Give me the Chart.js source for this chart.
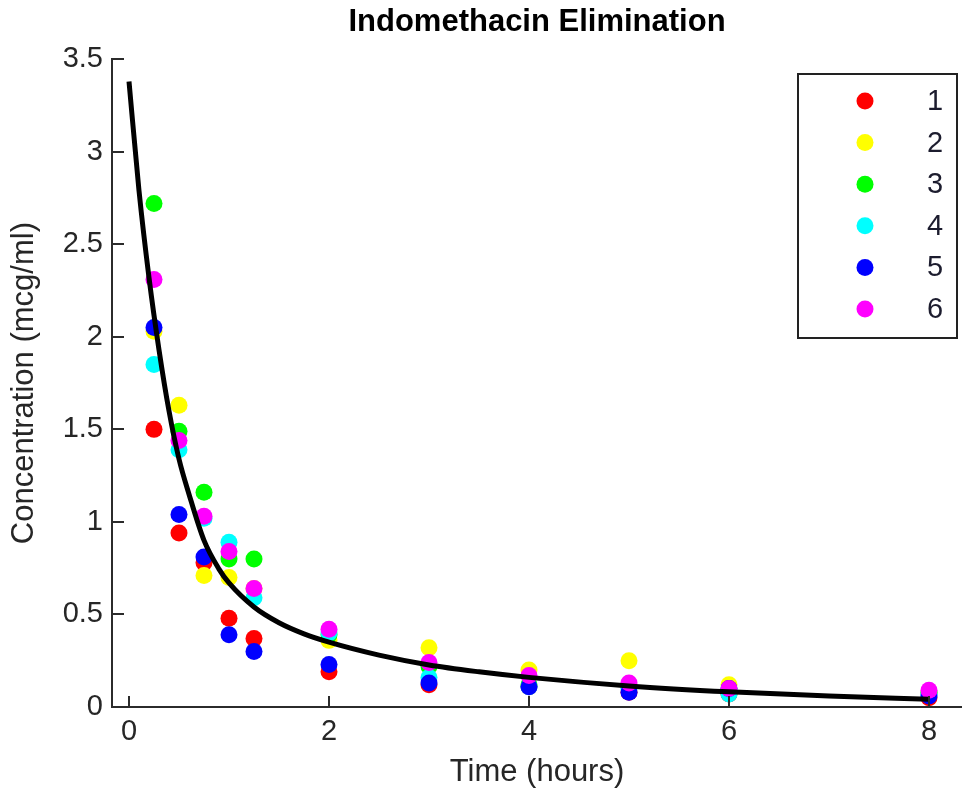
<!DOCTYPE html>
<html>
<head>
<meta charset="utf-8">
<script src="https://cdn.jsdelivr.net/npm/chart.js@4"></script>
<style>
    html, body { margin: 0; padding: 0; background: #fff; }
    #wrap { width: 962px; height: 791px; }
</style>
</head>
<body>
<div id="wrap"><canvas id="chart" width="962" height="791"></canvas></div>
<script>
// Sampling times (hours) and measured concentrations per subject
const sampleTimes = [0.25, 0.5, 0.75, 1, 1.25, 2, 3, 4, 5, 6, 8];
const subject1 = [1.50, 0.94, 0.78, 0.48, 0.37, 0.19, 0.12, 0.11, 0.08, 0.07, 0.05];
const subject2 = [2.03, 1.63, 0.71, 0.70, 0.64, 0.36, 0.32, 0.20, 0.25, 0.12, 0.08];
const subject3 = [2.72, 1.49, 1.16, 0.80, 0.80, 0.39, 0.22, 0.12, 0.11, 0.08, 0.08];
const subject4 = [1.85, 1.39, 1.02, 0.89, 0.59, 0.40, 0.16, 0.11, 0.10, 0.07, 0.07];
const subject5 = [2.05, 1.04, 0.81, 0.39, 0.30, 0.23, 0.13, 0.11, 0.08, 0.10, 0.06];
const subject6 = [2.31, 1.44, 1.03, 0.84, 0.64, 0.42, 0.24, 0.17, 0.13, 0.10, 0.09];
const subjectLabels = ['1', '2', '3', '4', '5', '6'];
const subjectColors = ['#ff0000', '#ffff00', '#00ff00', '#00ffff', '#0000ff', '#ff00ff'];

// Fitted curve
const fitTimes = [0, 0.1, 0.2, 0.3, 0.4, 0.5, 0.6, 0.75, 0.9, 1, 1.25, 1.5, 1.75, 2, 2.5, 3, 3.5, 4, 5, 6, 7, 8];
const fitConc = [3.38, 2.79, 2.32, 1.93, 1.60, 1.34, 1.15, 0.90, 0.745, 0.67, 0.54, 0.455, 0.395, 0.35, 0.28, 0.227, 0.19, 0.16, 0.114, 0.082, 0.059, 0.042];

const xTicks = [0, 2, 4, 6, 8];
const yTicks = [0, 0.5, 1, 1.5, 2, 2.5, 3, 3.5];

const fontFamily = "'Liberation Sans', Arial, sans-serif";
const axisColor = '#2b2b2b';
const textColor = '#262626';

const allSubjects = [subject1, subject2, subject3, subject4, subject5, subject6];

// later subjects on top, fitted line above all points
const datasets = [{
    label: 'fit',
    data: fitTimes.map((t, i) => ({ x: t, y: fitConc[i] })),
    showLine: true,
    borderColor: '#000',
    borderWidth: 5,
    pointRadius: 0,
    cubicInterpolationMode: 'monotone',
    order: 0
}];
allSubjects.forEach((vals, s) => {
    datasets.push({
        label: subjectLabels[s],
        data: sampleTimes.map((t, i) => ({ x: t, y: vals[i] })),
        backgroundColor: subjectColors[s],
        borderWidth: 0,
        pointRadius: 8.5,
        pointStyle: 'circle',
        order: allSubjects.length - s,
        clip: false
    });
});

// MATLAB style inward ticks and a boxed legend inside the axes
const matlabAxes = {
    id: 'matlabAxes',
    afterDraw(chart) {
        const { ctx, chartArea } = chart;
        const xs = chart.scales.x, ys = chart.scales.y;
        ctx.save();
        ctx.strokeStyle = axisColor;
        ctx.lineWidth = 2;
        ctx.beginPath();
        xTicks.forEach(v => {
            const px = Math.round(xs.getPixelForValue(v));
            ctx.moveTo(px, chartArea.bottom);
            ctx.lineTo(px, chartArea.bottom - 11);
        });
        yTicks.forEach(v => {
            const py = Math.round(ys.getPixelForValue(v));
            ctx.moveTo(chartArea.left, py);
            ctx.lineTo(chartArea.left + 12, py);
        });
        ctx.stroke();

        // legend box
        const bx = 798, by = 74, bw = 159, bh = 264;
        ctx.fillStyle = '#fff';
        ctx.fillRect(bx, by, bw, bh);
        ctx.strokeStyle = '#222';
        ctx.lineWidth = 2;
        ctx.strokeRect(bx, by, bw, bh);
        ctx.font = '29px ' + fontFamily;
        ctx.textAlign = 'center';
        ctx.textBaseline = 'middle';
        subjectLabels.forEach((lab, i) => {
            const cy = 101 + i * 41.6;
            ctx.fillStyle = subjectColors[i];
            ctx.beginPath();
            ctx.arc(865, cy, 8.5, 0, Math.PI * 2);
            ctx.fill();
            ctx.fillStyle = '#1c1c2e';
            ctx.fillText(lab, 935, cy + 1);
        });
        ctx.restore();
    }
};

new Chart(document.getElementById('chart'), {
    type: 'scatter',
    data: { datasets: datasets },
    options: {
        responsive: false,
        animation: false,
        devicePixelRatio: 1,
        layout: { padding: 0, autoPadding: false },
        plugins: {
            legend: { display: false },
            tooltip: { enabled: false },
            title: {
                display: true,
                text: 'Indomethacin Elimination',
                fullSize: false,
                color: '#000',
                font: { family: fontFamily, size: 31, weight: 'bold' },
                padding: { top: 4, bottom: 18 }
            }
        },
        scales: {
            x: {
                type: 'linear',
                min: -0.17,
                max: 8.33,
                afterFit(s) { s.height = 84; s.paddingLeft = 0; s.paddingRight = 0; },
                afterBuildTicks(s) { s.ticks = xTicks.map(v => ({ value: v })); },
                grid: { drawOnChartArea: false, drawTicks: false },
                border: { display: true, color: axisColor, width: 2 },
                ticks: {
                    color: textColor,
                    padding: 8,
                    maxRotation: 0,
                    font: { family: fontFamily, size: 29 }
                },
                title: {
                    display: true,
                    text: 'Time (hours)',
                    color: textColor,
                    font: { family: fontFamily, size: 31 },
                    padding: { top: 0, bottom: 0 }
                }
            },
            y: {
                type: 'linear',
                min: 0,
                max: 3.5,
                afterFit(s) { s.width = 112; },
                afterBuildTicks(s) { s.ticks = yTicks.map(v => ({ value: v })); },
                grid: { drawOnChartArea: false, drawTicks: false },
                border: { display: true, color: axisColor, width: 2 },
                ticks: {
                    color: textColor,
                    padding: 9,
                    font: { family: fontFamily, size: 29 },
                    callback: v => String(v)
                },
                title: {
                    display: true,
                    text: 'Concentration (mcg/ml)',
                    color: textColor,
                    font: { family: fontFamily, size: 31 },
                    padding: { top: 6, bottom: 0 }
                }
            }
        }
    },
    plugins: [matlabAxes]
});
</script>
</body>
</html>
